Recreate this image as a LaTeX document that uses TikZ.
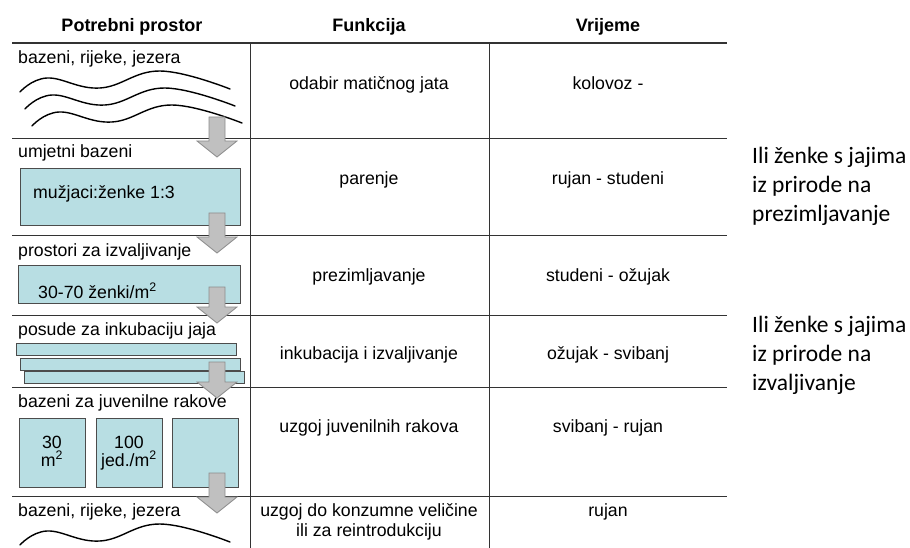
\documentclass[tikz,border=0pt]{standalone}
\usepackage{fontspec}
\setmainfont{Liberation Sans}
\newfontfamily\notefont{Carlito}
\usetikzlibrary{positioning}

\definecolor{tankblue}{RGB}{184,222,227}
\definecolor{arrowgrey}{RGB}{192,192,192}

\tikzset{
    tank/.style={draw=black!70, fill=tankblue, line width=0.9pt},
    flowarrow/.style={draw=black!45, fill=arrowgrey, line width=0.8pt},
    rule/.style={draw=black!80, line width=0.9pt},
    water/.style={line width=1.4pt, line cap=round},
    cell/.style={font=\fontsize{17.7}{20}\selectfont, inner sep=0pt},
    head/.style={font=\fontsize{18}{20}\selectfont\bfseries, inner sep=0pt, anchor=base},
    note/.style={font=\notefont\fontsize{23.5}{29}\selectfont, inner sep=0pt, anchor=base west}
}

\begin{document}
\begin{tikzpicture}[x=1pt, y=-1pt]
    \useasboundingbox (0,0) rectangle (910,548);

    % Header
    \node[head] (hspace) at (132,32) {Potrebni prostor};
    \node[head] (hfun) at (369,32) {Funkcija};
    \node[head] (htime) at (608,32) {Vrijeme};

    % Tanks (drawn below the rules)
    \draw[tank] (20,168) rectangle (240,225);
    \draw[tank] (18,265) rectangle (240,303);
    \foreach \x/\y in {16/343, 20/358, 24/371} {
        \draw[tank] (\x,\y) rectangle (\x+220,\y+12);
    }
    \foreach \x in {19, 96, 172} {
        \draw[tank] (\x,418) rectangle (\x+66,487);
    }

    % Table rules
    \draw[rule, line width=1.3pt] (12,43) -- (727,43);
    \foreach \y in {138, 235, 315, 387, 496} {
        \draw[rule] (12,\y) -- (727,\y);
    }
    \draw[rule] (250,43) -- (250,548);
    \draw[rule] (489,43) -- (489,548);

    % Water (rivers, lakes)
    \foreach \x/\y in {20/92, 25/109, 32/126, 20/545} {
        \draw[water, shift={(\x,\y)}] plot[smooth, tension=0.7]
            coordinates {(0,0) (27,-14) (80,-4) (140,-21) (210,-3)};
    }

    % Space column
    \node[cell, anchor=base west] (sp1) at (18,64) {bazeni, rijeke, jezera};
    \node[cell, anchor=base west] (sp2) at (18,158) {umjetni bazeni};
    \node[cell, anchor=base west] (sp3) at (18,256) {prostori za izvaljivanje};
    \node[cell, anchor=base west] (sp4) at (18,335) {posude za inkubaciju jaja};
    \node[cell, anchor=base west] (sp5) at (18,407) {bazeni za juvenilne rakove};
    \node[cell, anchor=base west] (sp6) at (18,516) {bazeni, rijeke, jezera};

    \node[cell, anchor=base west] (ratio) at (33,199) {mužjaci:ženke 1:3};
    \node[cell, anchor=base west] (dens) at (38,298) {30-70 ženki/m\textsuperscript{2}};
    \node[cell, anchor=base] (area) at (52,448) {30};
    \node[cell, anchor=base] (areau) at (52,466) {m\textsuperscript{2}};
    \node[cell, anchor=base] (num) at (129,448) {100};
    \node[cell, anchor=base] (numu) at (129,466) {jed./m\textsuperscript{2}};

    % Function and time columns
    \foreach \y/\f/\t [count=\i] in {90/odabir matičnog jata/kolovoz -,
        185/parenje/rujan - studeni,
        281/prezimljavanje/studeni - ožujak,
        359/inkubacija i izvaljivanje/ožujak - svibanj,
        432/uzgoj juvenilnih rakova/svibanj - rujan,
        516/uzgoj do konzumne veličine/rujan} {
        \node[cell, anchor=base] (fun\i) at (369,\y) {\f};
        \node[cell, anchor=base] (time\i) at (608,\y) {\t};
    }
    \node[cell, anchor=base] (fun7) at (369,536) {ili za reintrodukciju};

    % Flow arrows
    \foreach \t/\b in {117/157, 213/253, 287/323, 362/398, 473/513} {
        \filldraw[flowarrow] (209,\t) -- (225,\t) -- (225,\b-16) -- (237,\b-16)
            -- (217,\b) -- (197,\b-16) -- (209,\b-16) -- cycle;
    }

    % Notes
    \foreach \t [count=\i] in {Ili ženke s jajima, iz prirode na, prezimljavanje} {
        \node[note] (noteA\i) at (752,{164+29*(\i-1)}) {\t};
    }
    \foreach \t [count=\i] in {Ili ženke s jajima, iz prirode na, izvaljivanje} {
        \node[note] (noteB\i) at (752,{332+29*(\i-1)}) {\t};
    }
\end{tikzpicture}
\end{document}
